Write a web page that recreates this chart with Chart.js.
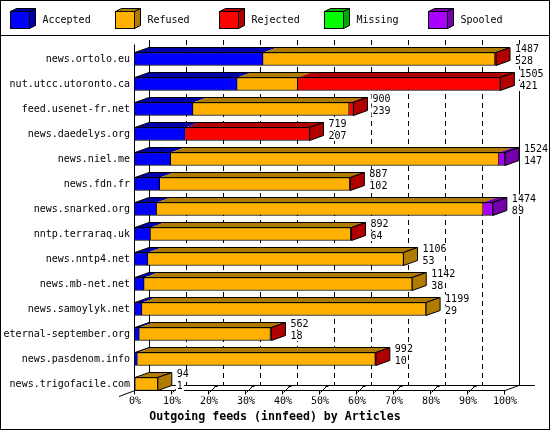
<!DOCTYPE html>
<html>
<head>
<meta charset="utf-8">
<script src="https://cdn.jsdelivr.net/npm/chart.js@4/dist/chart.umd.min.js"></script>
<style>
  body { margin: 0; background: #fff; }
  canvas { display: block; }
</style>
</head>
<body>
<canvas id="chart" width="550" height="430"></canvas>
<script>
// outgoing innfeed peers, top to bottom
const feeds = ['news.ortolo.eu', 'nut.utcc.utoronto.ca', 'feed.usenet-fr.net', 'news.daedelys.org',
    'news.niel.me', 'news.fdn.fr', 'news.snarked.org', 'nntp.terraraq.uk', 'news.nntp4.net',
    'news.mb-net.net', 'news.samoylyk.net', 'eternal-september.org', 'news.pasdenom.info',
    'news.trigofacile.com'];
const offered = [1487, 1505, 900, 719, 1524, 887, 1474, 892, 1106, 1142, 1199, 562, 992, 94];
const accepted = [528, 421, 239, 207, 147, 102, 89, 64, 53, 38, 29, 18, 10, 1];
const refused = [955, 249, 643, 0, 1352, 783, 1345, 825, 1053, 1104, 1170, 540, 980, 93];
const rejected = [4, 835, 18, 512, 0, 2, 0, 3, 0, 0, 0, 4, 2, 0];
const missing = [0, 0, 0, 0, 0, 0, 0, 0, 0, 0, 0, 0, 0, 0];
const spooled = [0, 0, 0, 0, 25, 0, 40, 0, 0, 0, 0, 0, 0, 0];
const tickLabels = ['0%', '10%', '20%', '30%', '40%', '50%', '60%', '70%', '80%', '90%', '100%'];
const chartTitle = 'Outgoing feeds (innfeed) by Articles';

const seriesNames = ['Accepted', 'Refused', 'Rejected', 'Missing', 'Spooled'];
const seriesData = [accepted, refused, rejected, missing, spooled];
const frontColors = ['#0000ff', '#ffb000', '#ff0000', '#00ff00', '#aa00ff'];
const darkColors = ['#0000aa', '#b07b00', '#b00000', '#00aa00', '#7400aa'];

const FONT = '"DejaVu Sans Mono", monospace';
const DX = 14, DY = 5, BAR = 13;
const maxOffered = Math.max(...offered);

function poly(ctx, pts, fill) {
    ctx.beginPath();
    ctx.moveTo(pts[0][0], pts[0][1]);
    for (let k = 1; k < pts.length; k++) ctx.lineTo(pts[k][0], pts[k][1]);
    ctx.closePath();
    if (fill) {
        ctx.fillStyle = fill;
        ctx.fill();
    }
}

function line(ctx, x1, y1, x2, y2) {
    ctx.beginPath();
    ctx.moveTo(x1, y1);
    ctx.lineTo(x2, y2);
    ctx.stroke();
}

const depth = {
    id: 'depth',
    beforeDatasetsDraw(chart) {
        const ctx = chart.ctx;
        const xs = chart.scales.x, ys = chart.scales.y, ca = chart.chartArea;
        const front0 = xs.getPixelForValue(0);
        const front100 = xs.getPixelForValue(maxOffered);
        const frontFloor = Math.round(ys.getPixelForValue(feeds.length - 1) + BAR / 2) - 0.5;
        const backFloor = frontFloor - DY;
        const backTop = ca.top - 6.5;
        ctx.save();
        ctx.strokeStyle = '#000';
        ctx.lineWidth = 1;
        // back wall grid
        ctx.setLineDash([5, 4]);
        xs.ticks.forEach((t, i) => {
            if (i === 0 || i === xs.ticks.length - 1) return;
            const x = Math.round(xs.getPixelForValue(t.value) + DX) + 0.5;
            line(ctx, x, backTop, x, backFloor);
        });
        ctx.setLineDash([]);
        line(ctx, front0 + DX + 0.5, backTop, front0 + DX + 0.5, backFloor);
        line(ctx, front100 + DX + 0.5, backTop, front100 + DX + 0.5, backFloor);
        // floor
        line(ctx, front0 + DX, backFloor, front100 + DX + 16, backFloor);
        line(ctx, front0 - 16, frontFloor + 6, front0, frontFloor);
        line(ctx, front0, frontFloor, front100, frontFloor);
        line(ctx, front100, frontFloor, front100 + DX, backFloor);
        line(ctx, front0 - 0.5, ca.top - 2, front0 - 0.5, frontFloor);
        xs.ticks.forEach((t, i) => {
            const x = Math.round(xs.getPixelForValue(t.value)) - 0.5;
            line(ctx, x, frontFloor, x, frontFloor + 4);
            if (i === 0 || i === xs.ticks.length - 1) return;
            line(ctx, x + 1, frontFloor + 2, x + 7, backFloor + 1);
            ctx.fillStyle = '#000';
            ctx.fillRect(x + 6, backFloor - 0.5, 3, 2);
        });
        ctx.restore();
    },
    afterDatasetsDraw(chart) {
        const ctx = chart.ctx;
        ctx.save();
        ctx.strokeStyle = '#000';
        ctx.lineWidth = 1;
        feeds.forEach((feed, i) => {
            let start = null, end = null, last = 0, top = 0, bottom = 0;
            chart.data.datasets.forEach((ds, d) => {
                const el = chart.getDatasetMeta(d).data[i];
                const p = el.getProps(['x', 'y', 'base', 'height'], true);
                top = p.y - p.height / 2;
                bottom = p.y + p.height / 2;
                if (start === null) start = p.base;
                if (p.x - p.base > 0.01) {
                    poly(ctx, [[p.base, top], [p.base + DX, top - DY], [p.x + DX, top - DY], [p.x, top]], darkColors[d]);
                    end = p.x;
                    last = d;
                }
            });
            if (end === null) return;
            poly(ctx, [[start, top], [start + DX, top - DY], [end + DX, top - DY], [end, top]]);
            ctx.stroke();
            poly(ctx, [[end, top], [end + DX, top - DY], [end + DX, bottom - DY], [end, bottom]], darkColors[last]);
            ctx.stroke();
            // offered / accepted counts
            ctx.font = '10px ' + FONT;
            ctx.textBaseline = 'middle';
            ctx.textAlign = 'left';
            const lx = end + DX + 5;
            [[String(offered[i]), top - 3], [String(accepted[i]), top + 8.5]].forEach(([txt, ty]) => {
                const w = ctx.measureText(txt).width;
                ctx.fillStyle = '#fff';
                ctx.fillRect(lx - 1, ty - 5, w + 2, 10);
                ctx.fillStyle = '#000';
                ctx.fillText(txt, lx, ty);
            });
        });
        ctx.restore();
    },
    afterDraw(chart) {
        const ctx = chart.ctx;
        ctx.save();
        ctx.strokeStyle = '#000';
        ctx.lineWidth = 1;
        ctx.strokeRect(0.5, 0.5, chart.width - 1, chart.height - 1);
        line(ctx, 0, 35.5, chart.width, 35.5);
        // legend with little cubes
        chart.data.datasets.forEach((ds, d) => {
            const x0 = Math.round(10 + d * 104.6) + 0.5;
            const y0 = 11.5;
            poly(ctx, [[x0, y0], [x0 + 6, y0 - 3], [x0 + 25, y0 - 3], [x0 + 19, y0]], darkColors[d]);
            ctx.stroke();
            poly(ctx, [[x0 + 19, y0], [x0 + 25, y0 - 3], [x0 + 25, y0 + 14], [x0 + 19, y0 + 17]], darkColors[d]);
            ctx.stroke();
            ctx.fillStyle = ds.backgroundColor;
            ctx.fillRect(x0, y0, 19, 17);
            ctx.strokeRect(x0, y0, 19, 17);
            ctx.fillStyle = '#000';
            ctx.font = '10px ' + FONT;
            ctx.textBaseline = 'middle';
            ctx.textAlign = 'left';
            ctx.fillText(ds.label, x0 + 32, 20);
        });
        // axis title, centred on the whole picture
        ctx.font = 'bold 11.6px ' + FONT;
        ctx.textAlign = 'center';
        ctx.fillText(chartTitle, chart.width / 2, 417);
        ctx.restore();
    }
};

new Chart(document.getElementById('chart'), {
    type: 'bar',
    data: {
        labels: feeds,
        datasets: seriesNames.map((name, d) => ({
            label: name,
            data: seriesData[d],
            backgroundColor: frontColors[d],
            borderColor: '#000',
            borderWidth: 1,
            borderSkipped: 'start',
            barThickness: BAR
        }))
    },
    options: {
        indexAxis: 'y',
        responsive: false,
        devicePixelRatio: 1,
        animation: false,
        layout: { padding: { left: 3, right: 45, top: 46.5, bottom: 0 } },
        scales: {
            x: {
                stacked: true,
                min: 0,
                max: maxOffered,
                grid: { display: false, drawTicks: false },
                border: { display: false },
                afterBuildTicks: (s) => {
                    s.ticks = tickLabels.map((_, i) => ({ value: maxOffered * i / 10 }));
                },
                afterFit: (s) => { s.height = 33.5; },
                ticks: {
                    autoSkip: false,
                    maxRotation: 0,
                    padding: -1,
                    color: '#000',
                    font: { family: FONT, size: 10 },
                    callback: (v, i) => tickLabels[i]
                }
            },
            y: {
                stacked: true,
                grid: { display: false, drawTicks: false },
                border: { display: false },
                afterFit: (s) => { s.width = 132; },
                ticks: {
                    autoSkip: false,
                    padding: 5,
                    color: '#000',
                    font: { family: FONT, size: 10 }
                }
            }
        },
        plugins: {
            legend: { display: false },
            tooltip: { enabled: false }
        }
    },
    plugins: [depth]
});
</script>
</body>
</html>
